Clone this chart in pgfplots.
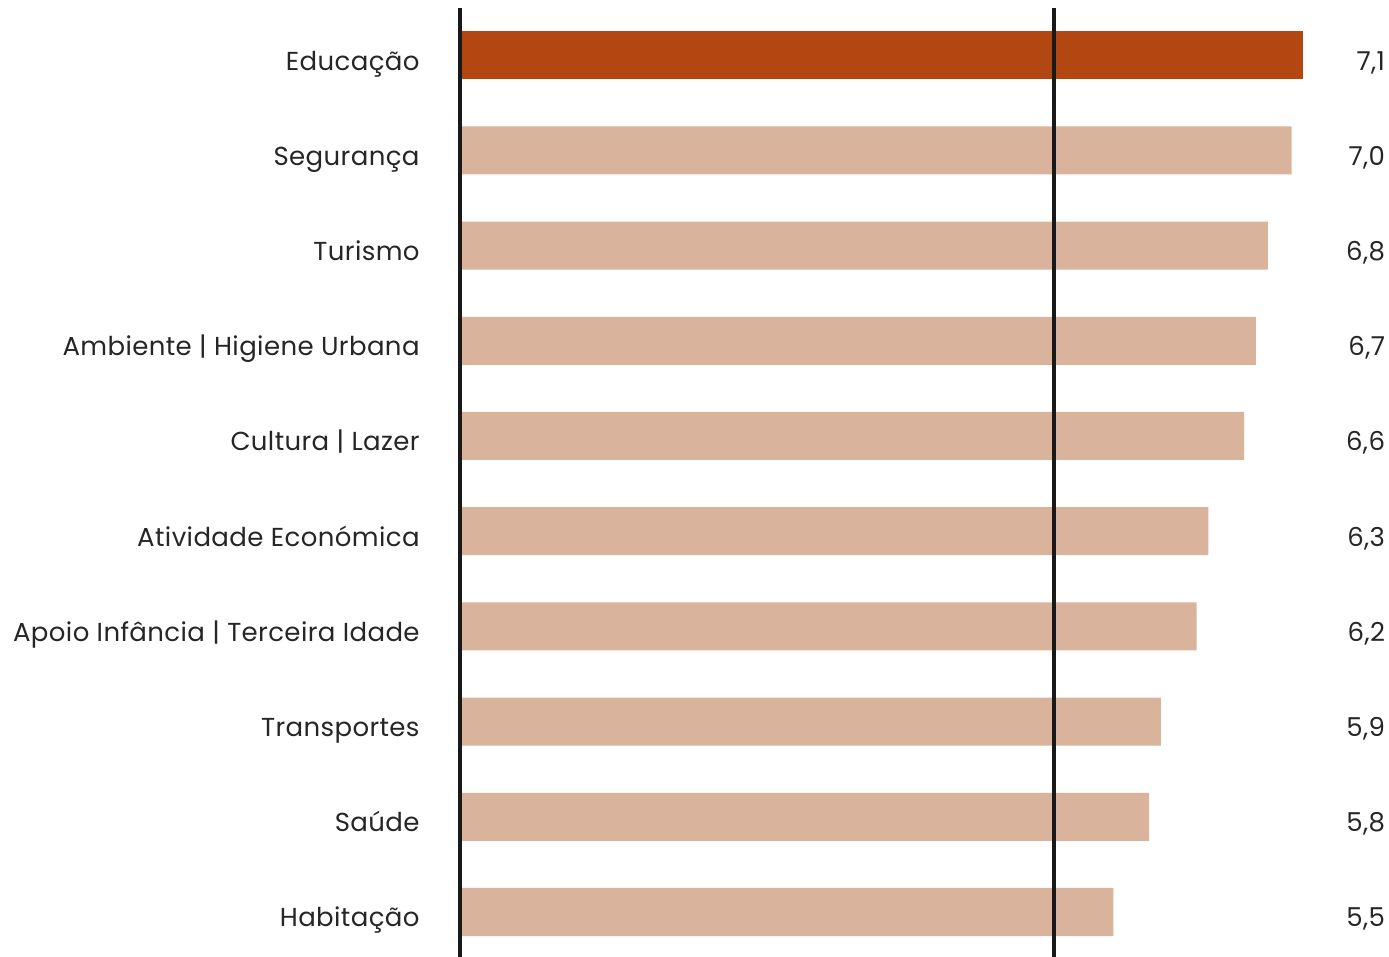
\documentclass[border=0pt]{standalone}
\usepackage{fontspec}
\setmainfont{Poppins}[LetterSpace=1.5]
\usepackage{pgfplots}
\pgfplotsset{compat=1.18}
\definecolor{hi}{HTML}{B34712}
\definecolor{lo}{HTML}{D9B39C}
\definecolor{txt}{HTML}{262626}
\begin{document}
\begin{tikzpicture}
\useasboundingbox (0,0) rectangle (694.5pt,478.5pt);
\begin{axis}[
  at={(230pt,-1.3pt)}, anchor=south west,
  scale only axis, width=464.5pt, height=476pt,
  xmin=0, xmax=7.82, ymin=-0.5, ymax=9.5, y dir=reverse,
  axis line style={draw=none},
  xtick=\empty, ytick={0,...,9},
  yticklabels={Educação,Segurança,Turismo,Ambiente | Higiene Urbana,Cultura | Lazer,Atividade Económica,Apoio Infância | Terceira Idade,Transportes,Saúde,Habitação},
  yticklabel style={font=\fontsize{13}{15}\selectfont, text=txt, anchor=base east, inner sep=0pt, xshift=-20pt, yshift=-7.5pt},
  major tick length=0pt,
  clip=false,
  every axis plot/.append style={bar width=24pt},
]
\addplot[xbar, fill=lo, draw=none] coordinates {
 (7.0,1) (6.8,2) (6.7,3) (6.6,4) (6.3,5) (6.2,6) (5.9,7) (5.8,8) (5.5,9)};
\addplot[xbar, fill=hi, draw=none] coordinates {(7.1,0)};
\addplot[only marks, mark=none, point meta=explicit symbolic,
  nodes near coords, nodes near coords align={anchor=base east},
  nodes near coords style={font=\fontsize{13}{15}\selectfont, text=txt, anchor=base east, inner sep=0pt, yshift=-7.5pt}]
  coordinates {
 (7.79,0) [7,1] (7.79,1) [7,0] (7.79,2) [6,8] (7.79,3) [6,7] (7.79,4) [6,6]
 (7.79,5) [6,3] (7.79,6) [6,2] (7.79,7) [5,9] (7.79,8) [5,8] (7.79,9) [5,5]};
\draw[line width=2pt, color=black!90] (axis cs:0,-0.5) -- (axis cs:0,9.5);
\draw[line width=2pt, color=black!90] (axis cs:5,-0.5) -- (axis cs:5,9.5);
\end{axis}
\end{tikzpicture}
\end{document}
